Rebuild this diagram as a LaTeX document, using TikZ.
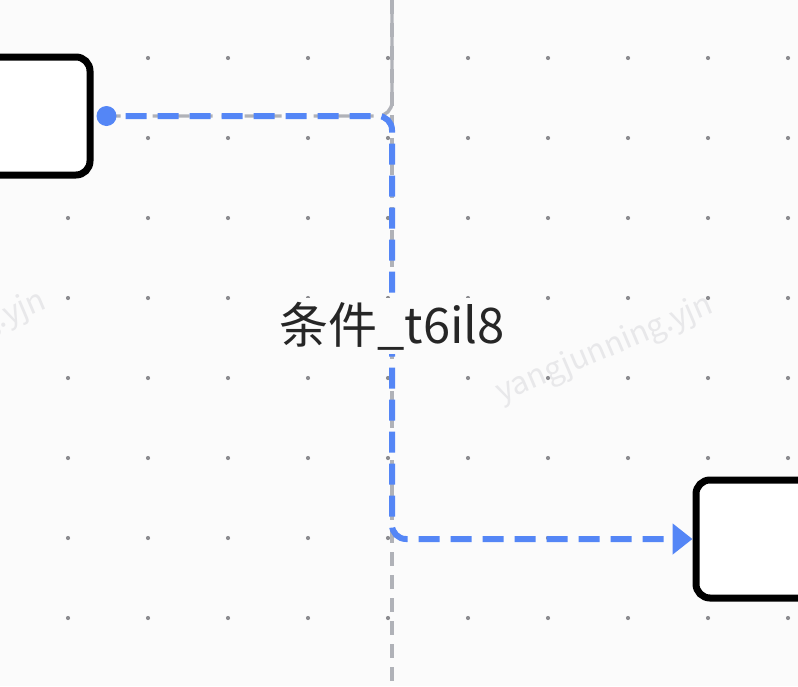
\documentclass[tikz,border=0pt]{standalone}
\usepackage{fontspec}
\newfontfamily\cjk{Noto Sans CJK SC}
\usetikzlibrary{arrows.meta,positioning}
\definecolor{cblue}{RGB}{84,134,246}
\definecolor{cguide}{RGB}{176,178,184}
\definecolor{cdot}{RGB}{140,140,144}
\definecolor{cback}{RGB}{251,251,251}
\definecolor{cmark}{RGB}{232,232,234}

\begin{document}
\begin{tikzpicture}[x=1pt,y=-1pt,
    block/.style={rectangle, draw, line width=7pt, rounded corners=14pt, fill=white, minimum width=150pt, minimum height=118pt},
    flow/.style={cblue, line width=6pt, dash pattern=on 21pt off 11pt, dash phase=13pt, rounded corners=14pt},
    guide/.style={cguide, line width=3.4pt, dash pattern=on 14pt off 9pt, rounded corners=14pt},
    watermark/.style={cmark, rotate=23, font=\cjk\fontsize{31}{36}\selectfont}]
    \useasboundingbox (0,0) rectangle (798,686);
    \fill[cback] (0,0) rectangle (798,686);

    % grid
    \foreach \x in {68,148,...,788}
      \foreach \y in {58,138,...,618}
        \fill[cdot] (\x,\y) circle (2.1pt);

    \node[watermark] (MarkRight) at (605,350) {yangjunning.yjn};
    \node[watermark] (MarkLeft) at (-62,346) {yangjunning.yjn};

    \node[block] (Source) at (15,116) {};
    \node[block] (Target) at (771,539) {};
    \coordinate (Start) at ([xshift=13pt]Source.east);
    \coordinate (GuideTop) at (392,0);
    \coordinate (GuideBottom) at (392,686);

    \draw[guide] (GuideTop) -- (GuideBottom);
    \draw[guide] (Start) -- (Start -| GuideTop) -- (GuideTop);

    \draw[flow,-{Triangle[length=20pt,width=30pt]}] (Start) -- (Start -| GuideTop) -- (GuideTop |- Target.west) -- (Target.west);
    \fill[cblue] (Start) circle (10pt);

    \node[fill=cback, text=black!85, inner sep=4pt, font=\cjk\fontsize{49}{56}\selectfont] (Cond) at (392,326) {条件\_t6il8};
  \end{tikzpicture}
\end{document}
